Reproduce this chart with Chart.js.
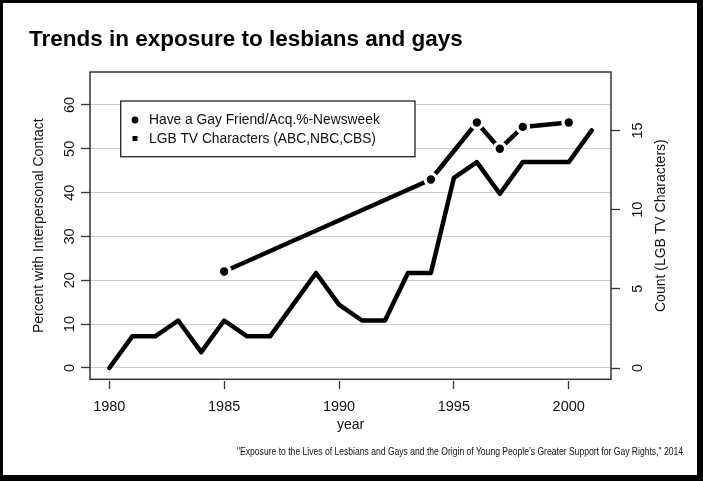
<!DOCTYPE html>
<html>
<head>
<meta charset="utf-8">
<script src="https://cdn.jsdelivr.net/npm/chart.js@4"></script>
<style>
html,body{margin:0;padding:0;background:#fff;}
#wrap{position:relative;width:703px;height:481px;overflow:hidden;font-family:"Liberation Sans",Arial,Helvetica,sans-serif;background:#fff;}
canvas{position:absolute;left:0;top:0;}
#frame{position:absolute;left:0;top:0;width:703px;height:481px;box-sizing:border-box;border-style:solid;border-color:#000;border-width:3px 6px 6px 3px;pointer-events:none;}
#title{position:absolute;left:29px;top:28px;font-size:22.5px;line-height:22px;font-weight:bold;color:#000;white-space:nowrap;}
#caption{position:absolute;right:20px;top:445px;font-size:11px;line-height:13px;color:#111;white-space:nowrap;transform-origin:100% 50%;}
</style>
</head>
<body>
<div id="wrap">
<canvas id="c" width="703" height="481"></canvas>
<div id="title">Trends in exposure to lesbians and gays</div>
<div id="caption">"Exposure to the Lives of Lesbians and Gays and the Origin of Young People’s Greater Support for Gay Rights," 2014</div>
<div id="frame"></div>
</div>
<script>
// ---- data ----
const years = [1980,1981,1982,1983,1984,1985,1986,1987,1988,1989,1990,1991,1992,1993,1994,1995,1996,1997,1998,1999,2000,2001];
const tvCounts = [0,2,2,3,1,3,2,2,4,6,4,3,3,6,6,12,13,11,13,13,13,15];
const friendYears = [1985,1994,1996,1997,1998,2000];
const friendPct = [22,43,56,50,55,56];
const xTicks = [1980,1985,1990,1995,2000];
const leftTicks = [0,10,20,30,40,50,60];
const rightTicks = [0,5,10,15];
const seriesNames = ['Have a Gay Friend/Acq.%-Newsweek','LGB TV Characters (ABC,NBC,CBS)'];
const xTitle = 'year';
const leftTitle = 'Percent with Interpersonal Contact';
const rightTitle = 'Count (LGB TV Characters)';

// fit caption width
(function(){
  const cap = document.getElementById('caption');
  const w = cap.getBoundingClientRect().width;
  const target = 446;
  cap.style.transform = 'scaleX(' + (target / w) + ')';
})();

const FONT = '"Liberation Sans", Arial, Helvetica, sans-serif';
Chart.defaults.font.family = FONT;
Chart.defaults.color = '#111';

const decor = {
  id: 'decor',
  afterDraw(chart) {
    const ctx = chart.ctx, a = chart.chartArea;
    const sy = chart.scales.y, sy1 = chart.scales.y1;
    ctx.save();
    // plot box
    ctx.strokeStyle = '#333';
    ctx.lineWidth = 1.5;
    const boxBottom = a.bottom - 1.7;
    ctx.strokeRect(a.left, a.top, a.right - a.left, boxBottom - a.top);

    // rotated y tick labels
    ctx.fillStyle = '#111';
    ctx.font = '14.5px ' + FONT;
    ctx.textAlign = 'center';
    ctx.textBaseline = 'middle';
    sy.ticks.forEach(t => {
      const p = sy.getPixelForValue(t.value);
      ctx.save(); ctx.translate(a.left - 20, p); ctx.rotate(-Math.PI / 2);
      ctx.fillText(String(t.value), 0, 0); ctx.restore();
    });
    sy1.ticks.forEach(t => {
      const p = sy1.getPixelForValue(t.value);
      ctx.save(); ctx.translate(a.right + 26.7, p); ctx.rotate(-Math.PI / 2);
      ctx.fillText(String(t.value), 0, 0); ctx.restore();
    });
    // axis titles
    ctx.font = '14px ' + FONT;
    const cy = (a.top + boxBottom) / 2;
    ctx.save(); ctx.translate(39.5, cy); ctx.rotate(-Math.PI / 2);
    ctx.fillText(leftTitle, 0, 0); ctx.restore();
    ctx.save(); ctx.translate(661.5, cy); ctx.rotate(-Math.PI / 2);
    ctx.fillText(rightTitle, 0, 0); ctx.restore();

    // legend
    const lx = 120.7, ly = 101, lw = 415 - 120.7, lh = 156.7 - 101;
    ctx.fillStyle = '#fff';
    ctx.fillRect(lx, ly, lw, lh);
    ctx.strokeStyle = '#222';
    ctx.lineWidth = 1.3;
    ctx.strokeRect(lx, ly, lw, lh);
    ctx.fillStyle = '#000';
    ctx.beginPath(); ctx.arc(135, 120, 3.4, 0, Math.PI * 2); ctx.fill();
    ctx.fillRect(135 - 2.5, 138.5 - 2.5, 5, 5);
    ctx.fillStyle = '#111';
    ctx.font = '13.8px ' + FONT;
    ctx.textAlign = 'left';
    ctx.fillText(seriesNames[0], 149, 120);
    ctx.fillText(seriesNames[1], 149, 139);
    ctx.restore();
  }
};

new Chart(document.getElementById('c'), {
  type: 'line',
  data: {
    datasets: [
      {
        label: seriesNames[0],
        data: friendYears.map((x, i) => ({x: x, y: friendPct[i]})),
        yAxisID: 'y',
        borderColor: '#000',
        borderWidth: 4.5,
        borderJoinStyle: 'round',
        borderCapStyle: 'round',
        tension: 0,
        pointRadius: 5.8,
        pointStyle: 'circle',
        pointBackgroundColor: '#000',
        pointBorderColor: '#fff',
        pointBorderWidth: 3.2,
        fill: false
      },
      {
        label: seriesNames[1],
        data: years.map((x, i) => ({x: x, y: tvCounts[i]})),
        yAxisID: 'y1',
        borderColor: '#000',
        borderWidth: 4.5,
        borderJoinStyle: 'round',
        borderCapStyle: 'round',
        tension: 0,
        pointRadius: 0,
        fill: false
      }
    ]
  },
  options: {
    responsive: false,
    animation: false,
    devicePixelRatio: 1,
    layout: { padding: { top: 72, left: 0, right: 0, bottom: 0 } },
    plugins: { legend: { display: false }, tooltip: { enabled: false }, title: { display: false } },
    scales: {
      x: {
        type: 'linear',
        position: 'bottom',
        min: 1979.16,
        max: 2001.84,
        afterBuildTicks: s => { s.ticks = xTicks.map(v => ({value: v})); },
        afterFit: s => { s.height = 100; },
        grid: { display: true, drawOnChartArea: false, drawTicks: true, tickLength: 8, tickColor: '#333', tickWidth: 1.3 },
        border: { display: false },
        ticks: { font: { size: 14.5 }, color: '#111', padding: 9, callback: v => String(v), maxRotation: 0, autoSkip: false },
        title: { display: true, text: xTitle, font: { size: 14 }, color: '#111', padding: { top: 0, bottom: 47 } }
      },
      y: {
        type: 'linear',
        position: 'left',
        min: -2.99,
        max: 67.53,
        afterBuildTicks: s => { s.ticks = leftTicks.map(v => ({value: v})); },
        afterFit: s => { s.width = 90; },
        grid: { display: true, drawOnChartArea: true, color: '#cdcdcd', lineWidth: 1, drawTicks: true, tickLength: 9, tickColor: '#333', tickWidth: 1.3 },
        border: { display: false },
        ticks: { display: false }
      },
      y1: {
        type: 'linear',
        position: 'right',
        min: -0.82,
        max: 18.69,
        afterBuildTicks: s => { s.ticks = rightTicks.map(v => ({value: v})); },
        afterFit: s => { s.width = 92; },
        grid: { display: true, drawOnChartArea: false, drawTicks: true, tickLength: 9, tickColor: '#333', tickWidth: 1.3 },
        border: { display: false },
        ticks: { display: false }
      }
    }
  },
  plugins: [decor]
});
</script>
</body>
</html>
